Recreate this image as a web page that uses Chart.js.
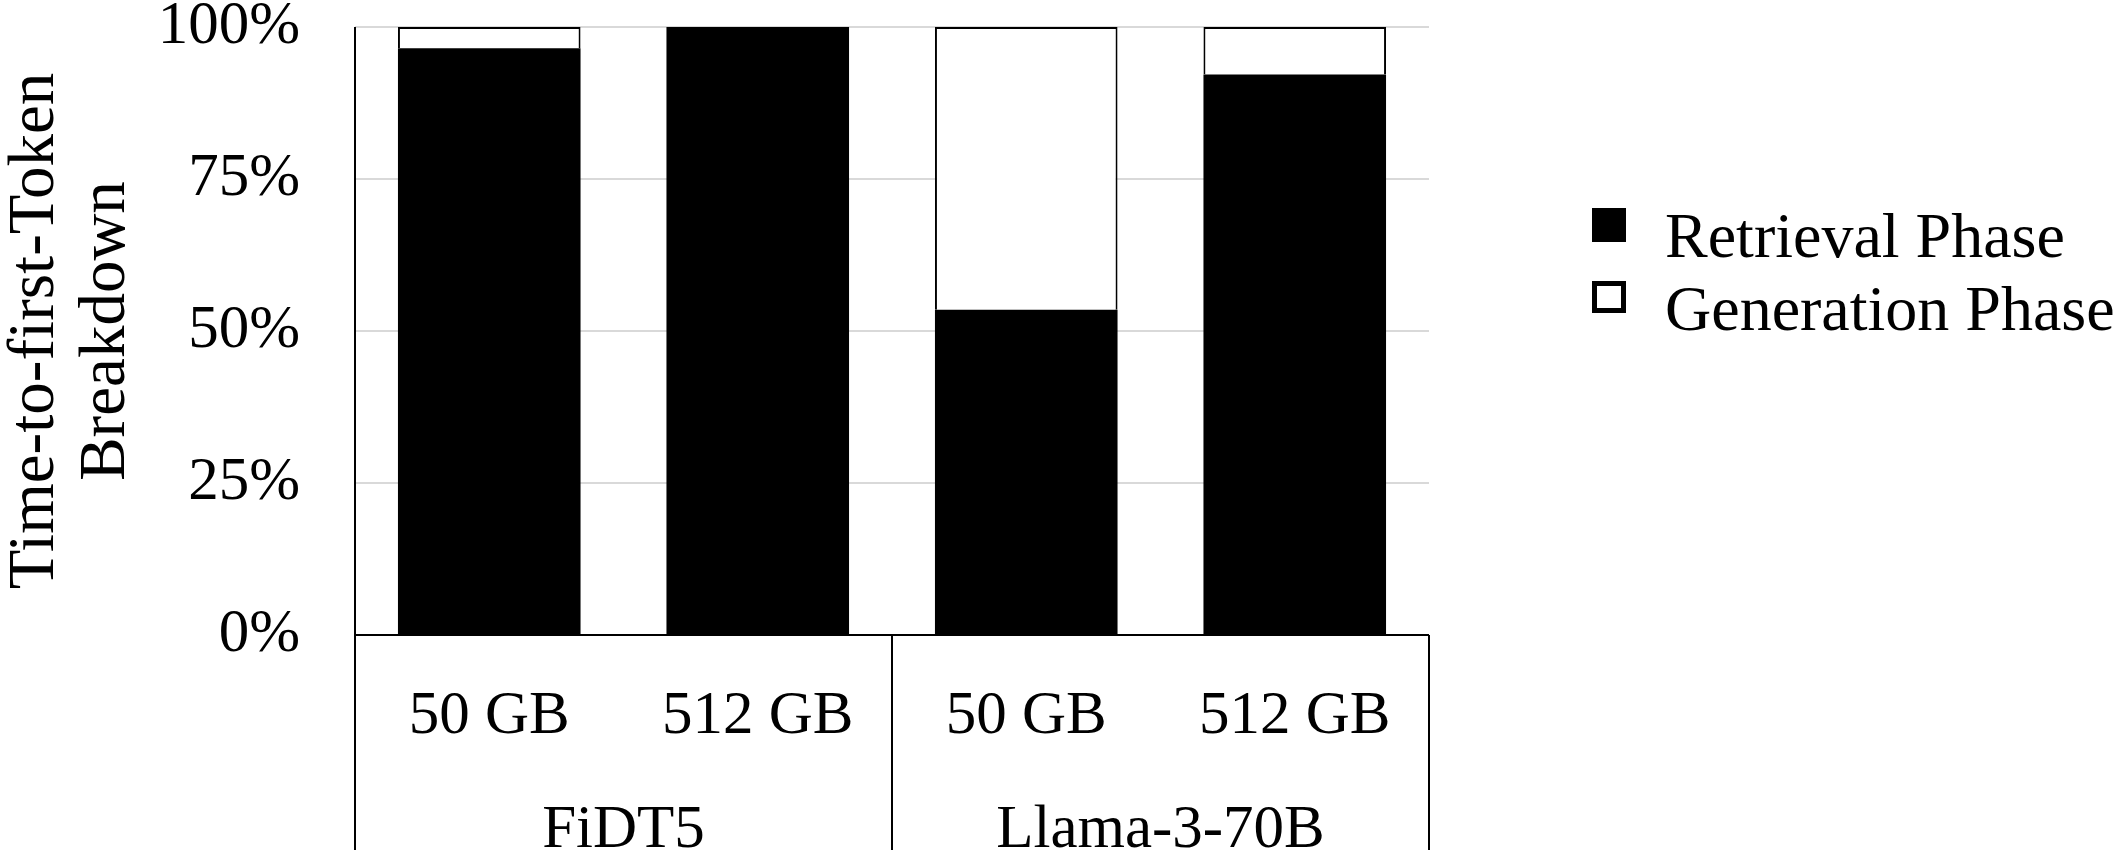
<!DOCTYPE html>
<html>
<head>
<meta charset="utf-8">
<script src="https://cdn.jsdelivr.net/npm/chart.js@4.4.1/dist/chart.umd.min.js"></script>
<style>
  html, body { margin: 0; padding: 0; background: #fff; }
  canvas { display: block; }
</style>
</head>
<body>
<canvas id="chart" width="2118" height="850"></canvas>
<script>
// --- Data ---
const sizes = ['50 GB', '512 GB', '50 GB', '512 GB'];
const models = ['FiDT5', 'Llama-3-70B'];
const retrieval = [96.5, 100, 53.5, 92.2];
const generation = [3.5, 0, 46.5, 7.8];
const seriesNames = ['Retrieval Phase', 'Generation Phase'];
const yTitle = ['Time-to-first-Token', 'Breakdown'];

const FONT = "'Liberation Serif', 'Times New Roman', serif";
const SIZE = 61;

// --- Axis frame: y axis line, baseline, group separators ---
const axisLines = {
  id: 'axisLines',
  afterDatasetsDraw(chart) {
    const { ctx, chartArea: a } = chart;
    const g = chart.scales.group;
    const half = (g.getPixelForTick(1) - g.getPixelForTick(0)) / 2;
    ctx.save();
    ctx.strokeStyle = '#000';
    ctx.lineWidth = 2;
    ctx.beginPath();
    ctx.moveTo(a.left, a.top);
    ctx.lineTo(a.left, chart.height);
    ctx.moveTo(a.left, a.bottom);
    ctx.lineTo(a.right, a.bottom);
    g.ticks.forEach((t, i) => {
      const x = g.getPixelForTick(i) + half;
      ctx.moveTo(x, a.bottom);
      ctx.lineTo(x, chart.height);
    });
    ctx.stroke();
    ctx.restore();
  }
};

// --- Legend on the right ---
const sideLegend = {
  id: 'sideLegend',
  afterDraw(chart) {
    const { ctx, chartArea: a } = chart;
    const x = a.right + 163, box = 34;
    ctx.save();
    ctx.font = '64px ' + FONT;
    chart.data.datasets.forEach((ds, i) => {
      const y = a.top + 181 + i * 73;
      if (ds.backgroundColor === '#000') {
        ctx.fillStyle = '#000';
        ctx.fillRect(x, y, box, box);
      } else {
        ctx.fillStyle = '#fff';
        ctx.fillRect(x, y, box, box - 2);
        ctx.strokeStyle = '#000';
        ctx.lineWidth = 5;
        ctx.strokeRect(x + 2.5, y + 2.5, box - 5, box - 7);
      }
      ctx.fillStyle = '#000';
      ctx.textBaseline = 'alphabetic';
      ctx.fillText(ds.label, x + 73, y + 49);
    });
    ctx.restore();
  }
};

const ctx = document.getElementById('chart').getContext('2d');
new Chart(ctx, {
  type: 'bar',
  data: {
    labels: sizes,
    datasets: [
      {
        label: seriesNames[0],
        data: retrieval,
        backgroundColor: '#000',
        borderColor: '#000',
        borderWidth: 0,
        categoryPercentage: 1,
        barPercentage: 0.68
      },
      {
        label: seriesNames[1],
        data: generation,
        backgroundColor: '#fff',
        borderColor: '#000',
        borderWidth: 2,
        categoryPercentage: 1,
        barPercentage: 0.68
      }
    ]
  },
  options: {
    responsive: false,
    animation: false,
    layout: { padding: { top: 27, right: 689, bottom: 0, left: 0 } },
    plugins: {
      legend: { display: false },
      tooltip: { enabled: false }
    },
    scales: {
      x: {
        stacked: true,
        position: 'bottom',
        grid: { display: false },
        border: { display: false },
        ticks: {
          color: '#000',
          font: { family: FONT, size: SIZE },
          padding: 37,
          autoSkip: false,
          maxRotation: 0
        },
        afterFit(scale) { scale.height = 110; }
      },
      group: {
        type: 'category',
        labels: models,
        position: 'bottom',
        offset: true,
        grid: { display: false },
        border: { display: false },
        ticks: {
          color: '#000',
          font: { family: FONT, size: SIZE },
          padding: 41,
          autoSkip: false,
          maxRotation: 0
        },
        afterFit(scale) { scale.height = 105; }
      },
      y: {
        stacked: true,
        min: 0,
        max: 100,
        grid: {
          color: '#d9d9d9',
          lineWidth: 2,
          drawTicks: true,
          tickLength: 55,
          tickColor: 'rgba(0,0,0,0)'
        },
        border: { display: false },
        ticks: {
          stepSize: 25,
          color: '#000',
          font: { family: FONT, size: SIZE, lineHeight: 0.8 },
          padding: 0,
          callback: v => v + '%'
        },
        title: {
          display: true,
          text: yTitle,
          color: '#000',
          font: { family: FONT, size: 65, lineHeight: 1.1 },
          padding: 0
        },
        afterFit(scale) { scale.width = 355; }
      }
    }
  },
  plugins: [axisLines, sideLegend]
});
</script>
</body>
</html>
